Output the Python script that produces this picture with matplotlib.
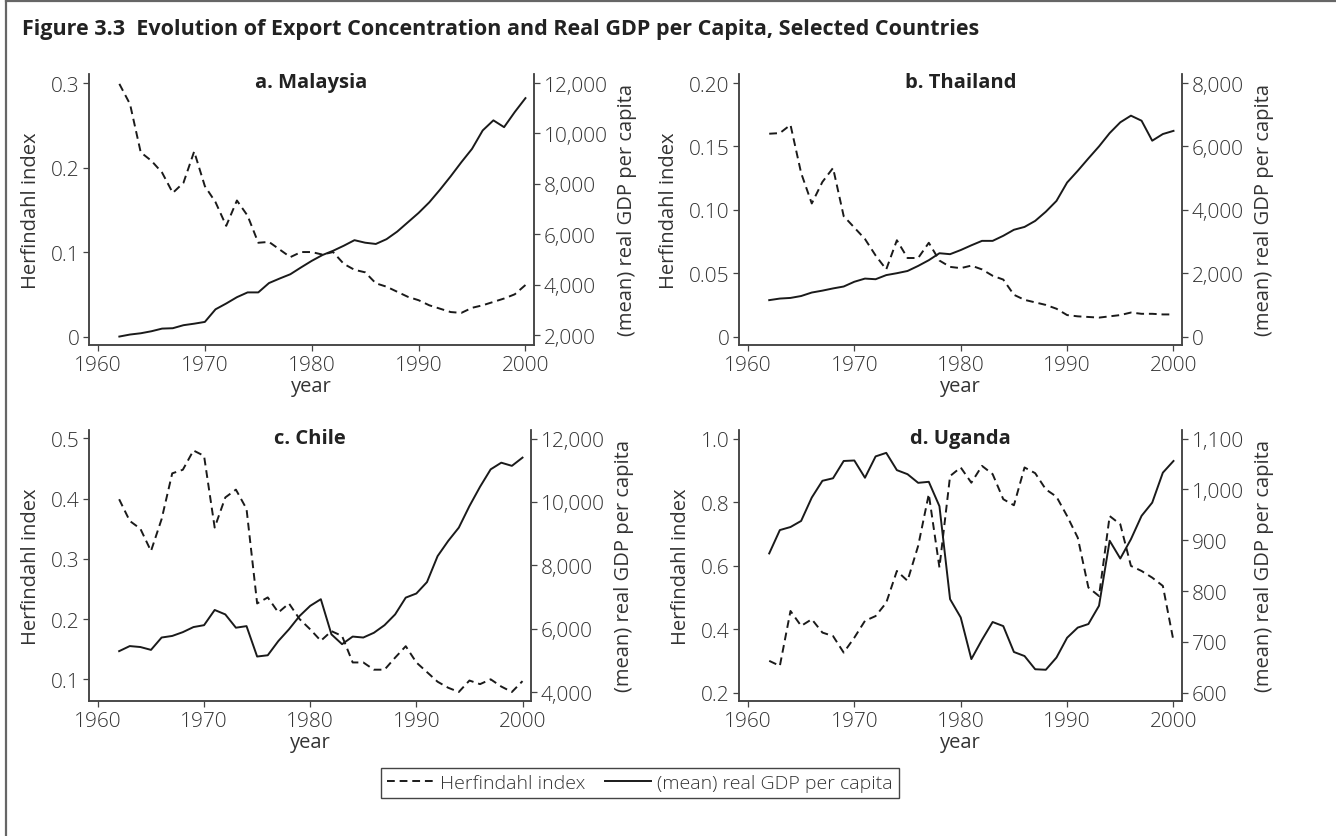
import matplotlib
matplotlib.use("Agg")
import matplotlib.pyplot as plt
from matplotlib.lines import Line2D

plt.rcParams['font.family'] = ['Open Sans', 'DejaVu Sans']
plt.rcParams['font.weight'] = 'light'

years = list(range(1962, 2001))

# Herfindahl index (left axis) and (mean) real GDP per capita (right axis)
malaysia_herf = [0.299, 0.275, 0.218, 0.208, 0.194, 0.170, 0.182, 0.219, 0.178, 0.159,
                 0.131, 0.161, 0.143, 0.111, 0.112, 0.103, 0.094, 0.100, 0.100, 0.097,
                 0.100, 0.086, 0.079, 0.076, 0.063, 0.059, 0.053, 0.047, 0.043, 0.037,
                 0.033, 0.029, 0.028, 0.034, 0.037, 0.041, 0.045, 0.050, 0.061]
malaysia_gdp = [1950, 2030, 2080, 2160, 2265, 2280, 2400, 2460, 2530, 3030,
                3260, 3510, 3700, 3700, 4070, 4250, 4420, 4690, 4950, 5180,
                5350, 5550, 5770, 5670, 5620, 5810, 6110, 6480, 6850, 7270,
                7770, 8300, 8860, 9390, 10120, 10520, 10250, 10850, 11400]

thailand_herf = [0.160, 0.1605, 0.167, 0.129, 0.105, 0.122, 0.133, 0.095, 0.086, 0.077,
                 0.064, 0.053, 0.076, 0.062, 0.062, 0.074, 0.060, 0.055, 0.054, 0.056,
                 0.053, 0.048, 0.045, 0.033, 0.029, 0.027, 0.025, 0.022, 0.017, 0.016,
                 0.0155, 0.015, 0.016, 0.017, 0.019, 0.018, 0.018, 0.0175, 0.0175]
thailand_gdp = [1150, 1200, 1220, 1280, 1390, 1450, 1520, 1580, 1730, 1830,
                1810, 1940, 2000, 2070, 2230, 2410, 2630, 2600, 2730, 2880,
                3020, 3020, 3180, 3370, 3460, 3650, 3940, 4280, 4860, 5230,
                5620, 6000, 6420, 6760, 6970, 6810, 6180, 6390, 6490]

chile_herf = [0.399, 0.363, 0.350, 0.313, 0.366, 0.442, 0.448, 0.480, 0.471, 0.352,
              0.402, 0.415, 0.383, 0.226, 0.236, 0.211, 0.226, 0.200, 0.183, 0.164,
              0.180, 0.172, 0.128, 0.128, 0.116, 0.116, 0.136, 0.155, 0.128, 0.112,
              0.096, 0.086, 0.079, 0.098, 0.092, 0.100, 0.088, 0.079, 0.097]
chile_gdp = [5290, 5450, 5420, 5330, 5720, 5770, 5890, 6050, 6110, 6590,
             6450, 6030, 6080, 5120, 5160, 5610, 5980, 6400, 6720, 6930,
             5820, 5510, 5750, 5720, 5870, 6110, 6450, 6980, 7110, 7470,
             8290, 8770, 9190, 9870, 10480, 11030, 11240, 11140, 11400]

uganda_herf = [0.300, 0.284, 0.457, 0.410, 0.431, 0.389, 0.378, 0.326, 0.373, 0.426,
               0.441, 0.483, 0.583, 0.552, 0.662, 0.825, 0.594, 0.882, 0.909, 0.861,
               0.914, 0.888, 0.809, 0.790, 0.909, 0.891, 0.840, 0.817, 0.756, 0.688,
               0.531, 0.504, 0.756, 0.730, 0.599, 0.583, 0.562, 0.536, 0.363]
uganda_gdp = [874, 920, 926, 938, 984, 1017, 1022, 1056, 1057, 1023,
              1065, 1072, 1038, 1030, 1013, 1015, 967, 784, 748, 666,
              704, 739, 731, 680, 672, 646, 645, 669, 708, 728,
              735, 771, 899, 864, 902, 948, 974, 1033, 1056]

titles = ["a. Malaysia", "b. Thailand", "c. Chile", "d. Uganda"]
herf_series = [malaysia_herf, thailand_herf, chile_herf, uganda_herf]
gdp_series = [malaysia_gdp, thailand_gdp, chile_gdp, uganda_gdp]
herf_ticks = [[0, 0.1, 0.2, 0.3], [0, 0.05, 0.10, 0.15, 0.20],
              [0.1, 0.2, 0.3, 0.4, 0.5], [0.2, 0.4, 0.6, 0.8, 1.0]]
herf_labels = [["0", "0.1", "0.2", "0.3"], ["0", "0.05", "0.10", "0.15", "0.20"],
               ["0.1", "0.2", "0.3", "0.4", "0.5"], ["0.2", "0.4", "0.6", "0.8", "1.0"]]
gdp_ticks = [[2000, 4000, 6000, 8000, 10000, 12000], [0, 2000, 4000, 6000, 8000],
             [4000, 6000, 8000, 10000, 12000], [600, 700, 800, 900, 1000, 1100]]
year_ticks = [1960, 1970, 1980, 1990, 2000]

# layout (pixels: left, right, top, bottom) and axis ranges
W, H = 1336, 837
boxes = [(89, 534, 75, 346), (739, 1182, 75, 346),
         (89, 531, 431, 702), (739, 1182, 431, 702)]
herf_lims = [(-0.0100, 0.3107), (-0.0066, 0.2071), (0.064, 0.514), (0.1735, 1.027)]
gdp_lims = [(1615, 12357), (-265, 8284), (3716, 12272), (583.5, 1117)]
xlims = [(1959.16, 2000.8)] * 4

TXT = "#333333"
SP = "#444444"
LN = "#1a1a1a"
FS = 15

fig = plt.figure(figsize=(W / 100, H / 100), dpi=100)
fig.patch.set_facecolor("white")

for i in range(4):
    l, r, t, b = boxes[i]
    ax = fig.add_axes([l / W, 1 - b / H, (r - l) / W, (b - t) / H])
    ax2 = ax.twinx()
    ax.plot(years, herf_series[i], color=LN, lw=1.4, ls=(0, (4, 2.5)))
    ax2.plot(years, gdp_series[i], color=LN, lw=1.4)
    ax.set_xlim(*xlims[i])
    ax.set_ylim(*herf_lims[i])
    ax2.set_ylim(*gdp_lims[i])
    ax.set_xticks(year_ticks)
    ax.set_yticks(herf_ticks[i])
    ax.set_yticklabels(herf_labels[i])
    ax2.set_yticks(gdp_ticks[i])
    ax2.set_yticklabels([f"{v:,}" for v in gdp_ticks[i]])
    for a in (ax, ax2):
        a.spines["top"].set_visible(False)
        for s in ("left", "right", "bottom"):
            a.spines[s].set_color(SP)
            a.spines[s].set_linewidth(1.1)
        a.tick_params(direction="out", length=4, width=0.9, color=SP,
                      labelsize=FS, labelcolor=TXT, pad=3)
    ax.tick_params(axis="x", pad=3)
    ax.set_xlabel("year", fontsize=14.5, color=TXT, labelpad=1)
    ax.set_ylabel("Herfindahl index", fontsize=14.5, color=TXT, labelpad=7)
    ax2.set_ylabel("(mean) real GDP per capita", fontsize=14.5, color=TXT, labelpad=7)
    ax.text(0.5, 0.972, titles[i], transform=ax.transAxes, ha="center", va="center",
            fontsize=14.5, fontweight="bold", color="#222222")

fig.text(22 / W, 1 - 30 / H,
         "Figure 3.3  Evolution of Export Concentration and Real GDP per Capita, Selected Countries",
         ha="left", va="center", fontsize=15.5, fontweight="bold", color="#222222")

# frame lines (left and top edges)
fig.add_artist(Line2D([6 / W, 6 / W], [0, 1 - 2 / H], transform=fig.transFigure,
                      color="#666666", lw=1.6))
fig.add_artist(Line2D([6 / W, 1], [1 - 2 / H, 1 - 2 / H], transform=fig.transFigure,
                      color="#666666", lw=1.6))

handles = [Line2D([], [], color=LN, lw=1.4, ls=(0, (4, 2.5))),
           Line2D([], [], color=LN, lw=1.4)]
leg = fig.legend(handles, ["Herfindahl index", "(mean) real GDP per capita"],
                 loc="center", bbox_to_anchor=(640 / W, 1 - 784 / H), ncol=2,
                 fontsize=14, frameon=True, fancybox=False, edgecolor="#444444",
                 framealpha=1, handlelength=2.4, handletextpad=0.3,
                 columnspacing=1.0, borderpad=0.3)
leg.get_frame().set_linewidth(1.0)
for txt in leg.get_texts():
    txt.set_color(TXT)

fig.savefig("out.png", dpi=100, facecolor="white")
